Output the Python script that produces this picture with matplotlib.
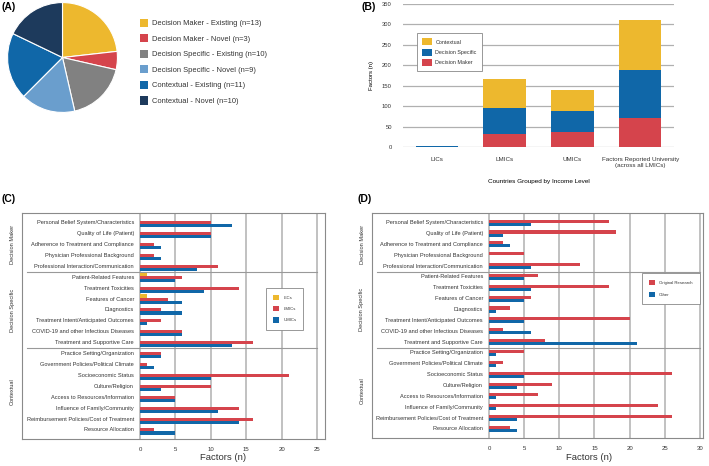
import numpy as np
import matplotlib.pyplot as plt
from matplotlib.patches import Patch

plt.rcParams['font.family'] = ['Liberation Sans', 'DejaVu Sans']
plt.rcParams['text.color'] = '#333333'
plt.rcParams['xtick.color'] = '#333333'
plt.rcParams['ytick.color'] = '#333333'

W, H = 709, 466

YELLOW = '#EDB82E'
RED = '#D5444C'
BLUE = '#1067A8'
GRAY = '#818181'
LIGHTBLUE = '#6A9ECD'
NAVY = '#1D3A5C'
GRID = '#b0b0b0'

# (A) pie
pie_labels = ['Decision Maker - Existing (n=13)', 'Decision Maker - Novel (n=3)',
              'Decision Specific - Existing (n=10)', 'Decision Specific - Novel (n=9)',
              'Contextual - Existing (n=11)', 'Contextual - Novel (n=10)']
pie_counts = [13, 3, 10, 9, 11, 10]
pie_colors = [YELLOW, RED, GRAY, LIGHTBLUE, BLUE, NAVY]

# (B) stacked bars
income_groups = ['LICs', 'LMICs', 'UMICs', 'Factors Reported University\n(across all LMICs)']
b_maker = [0, 33, 37, 72]
b_specific = [3, 62, 51, 116]
b_context = [0, 72, 52, 122]

# (C)/(D) factor categories
factors = ['Personal Belief System/Characteristics', 'Quality of Life (Patient)',
           'Adherence to Treatment and Compliance', 'Physician Professional Background',
           'Professional Interaction/Communication', 'Patient-Related Features',
           'Treatment Toxicities', 'Features of Cancer', 'Diagnostics',
           'Treatment Intent/Anticipated Outcomes', 'COVID-19 and other Infectious Diseases',
           'Treatment and Supportive Care', 'Practice Setting/Organization',
           'Government Policies/Political Climate', 'Socioeconomic Status',
           'Culture/Religion', 'Access to Resources/Information',
           'Influence of Family/Community', 'Reimbursement Policies/Cost of Treatment',
           'Resource Allocation']
groups = ['Decision Maker', 'Decision Specific', 'Contextual']
group_mid = [2, 8, 15.5]

c_lics = [0, 0, 0, 0, 0, 1, 0, 1, 0, 0, 0, 0, 0, 0, 0, 0, 0, 0, 0, 0]
c_lmics = [10, 10, 2, 2, 11, 6, 14, 4, 3, 3, 6, 16, 3, 1, 21, 10, 5, 14, 16, 2]
c_umics = [13, 10, 3, 3, 8, 5, 9, 6, 6, 1, 6, 13, 3, 2, 10, 3, 5, 11, 14, 5]

d_original = [17, 18, 2, 5, 13, 7, 17, 6, 3, 20, 2, 8, 5, 2, 26, 9, 7, 24, 26, 3]
d_other = [6, 2, 3, 0, 6, 5, 6, 5, 1, 5, 6, 21, 1, 1, 5, 4, 1, 1, 4, 4]


def add_axes_px(fig, x0, y0, x1, y1):
    return fig.add_axes([x0 / W, 1 - y1 / H, (x1 - x0) / W, (y1 - y0) / H])


fig = plt.figure(figsize=(W / 100, H / 100), dpi=100)

# ---- (A)
ax = add_axes_px(fig, 7, 2, 118, 113)
ax.pie(pie_counts, colors=pie_colors, startangle=90, counterclock=False,
       wedgeprops=dict(edgecolor='white', linewidth=0.8))
ax.set_xlim(-1.01, 1.01)
ax.set_ylim(-1.01, 1.01)
handles = [Patch(facecolor=c) for c in pie_colors]
fig.legend(handles, pie_labels, loc='upper left', bbox_to_anchor=(140 / W, 1 - 18.5 / H),
           frameon=False, fontsize=5.4, handlelength=1.1, handleheight=1.3,
           labelspacing=0.93, handletextpad=0.55, borderaxespad=0, borderpad=0)
fig.text(2 / W, 1 - 7 / H, '(A)', fontsize=7.5, fontweight='bold', va='center', color='black')

# ---- (B)
ax = add_axes_px(fig, 403, 4, 674, 147)
x = np.arange(len(income_groups))
bw = 0.63
ax.bar(x, b_maker, bw, color=RED, label='Decision Maker', zorder=3)
ax.bar(x, b_specific, bw, bottom=b_maker, color=BLUE, label='Decision Specific', zorder=3)
bottom2 = np.array(b_maker) + np.array(b_specific)
ax.bar(x, b_context, bw, bottom=bottom2, color=YELLOW, label='Contextual', zorder=3)
ax.set_xlim(-0.5, 3.5)
ax.set_ylim(0, 350)
ax.set_yticks(range(0, 351, 50))
ax.yaxis.grid(True, color=GRID, lw=0.9)
ax.set_axisbelow(True)
for s in ax.spines.values():
    s.set_visible(False)
ax.tick_params(length=0, labelsize=4.2, pad=8)
ax.tick_params(axis='x', pad=7)
ax.set_xticks(x)
ax.set_xticklabels(income_groups, fontsize=4.5, linespacing=1.3)
ax.set_ylabel('Factors (n)', fontsize=4.3, labelpad=6)
ax.set_xlabel('Countries Grouped by Income Level', fontsize=4.6, labelpad=8)
h, l = ax.get_legend_handles_labels()
leg = ax.legend(h[::-1], l[::-1], loc='upper left', bbox_to_anchor=(417 / W, 1 - 33 / H),
                bbox_transform=fig.transFigure, fontsize=3.9, fancybox=False,
                edgecolor='#888888', framealpha=1, handlelength=1.8, handleheight=1.6,
                labelspacing=0.6, borderpad=1.0, borderaxespad=0, handletextpad=0.6)
leg.get_frame().set_linewidth(0.6)
fig.text(362 / W, 1 - 7 / H, '(B)', fontsize=7.5, fontweight='bold', va='center', color='black')


# ---- (C) and (D)
def factor_panel(box, zero_px, scale, xmax, series, colors, names, legend_xy, lspace):
    bx0, by0, bx1, by1 = box
    ax = add_axes_px(fig, bx0, by0, bx1, by1)
    left = (bx0 - zero_px) / scale
    right = (bx1 - zero_px) / scale
    ax.set_xlim(left, right)
    ax.set_ylim(19.83, -0.89)
    n = len(series)
    bh = 0.28
    y = np.arange(len(factors))
    for k, (vals, col, name) in enumerate(zip(series, colors, names)):
        off = (k - (n - 1) / 2) * bh
        ax.barh(y + off, vals, bh, color=col, label=name, zorder=3)
    ticks = list(range(0, xmax + 1, 5))
    for t in ticks:
        ax.axvline(t, color=GRID, lw=1.1, zorder=1)
    ax.set_xticks(ticks)
    ax.set_yticks([])
    ax.tick_params(length=0, labelsize=4.3, pad=6)
    for s in ax.spines.values():
        s.set_color('#8a8a8a')
        s.set_linewidth(0.8)
    for i, f in enumerate(factors):
        ax.text(-0.85, i, f, ha='right', va='center', fontsize=4.1)
    for sep in [4.5, 11.5]:
        ax.plot([left + 0.7, xmax], [sep, sep], color='#999999', lw=0.8, zorder=2)
    for g, m in zip(groups, group_mid):
        ax.text(left - 10 / scale, m, g, rotation=90, ha='center', va='center',
                fontsize=4.1, clip_on=False)
    fig.text((zero_px + xmax / 2 * scale - 5) / W, 1 - 458 / H, 'Factors (n)',
             fontsize=6.8, ha='center', va='center')
    leg = ax.legend(loc='upper left', bbox_to_anchor=(legend_xy[0] / W, 1 - legend_xy[1] / H),
                    bbox_transform=fig.transFigure, fontsize=3.1, fancybox=False,
                    edgecolor='#888888', framealpha=1, handlelength=1.5, handleheight=1.5,
                    labelspacing=lspace, borderpad=1.6, borderaxespad=0, handletextpad=0.9)
    leg.get_frame().set_linewidth(0.6)
    return ax


factor_panel((22, 213, 325, 439), 140, 7.08, 25, [c_lics, c_lmics, c_umics],
             [YELLOW, RED, BLUE], ['LICs', 'LMICs', 'UMICs'], (266, 288), 1.4)
fig.text(2 / W, 1 - 199 / H, '(C)', fontsize=7.5, fontweight='bold', va='center', color='black')

factor_panel((372, 213, 703, 438), 489, 7.033, 30, [d_original, d_other],
             [RED, BLUE], ['Original Research', 'Other'], (642, 273), 1.6)
fig.text(357 / W, 1 - 199 / H, '(D)', fontsize=7.5, fontweight='bold', va='center', color='black')

fig.savefig('out.png', dpi=100)
